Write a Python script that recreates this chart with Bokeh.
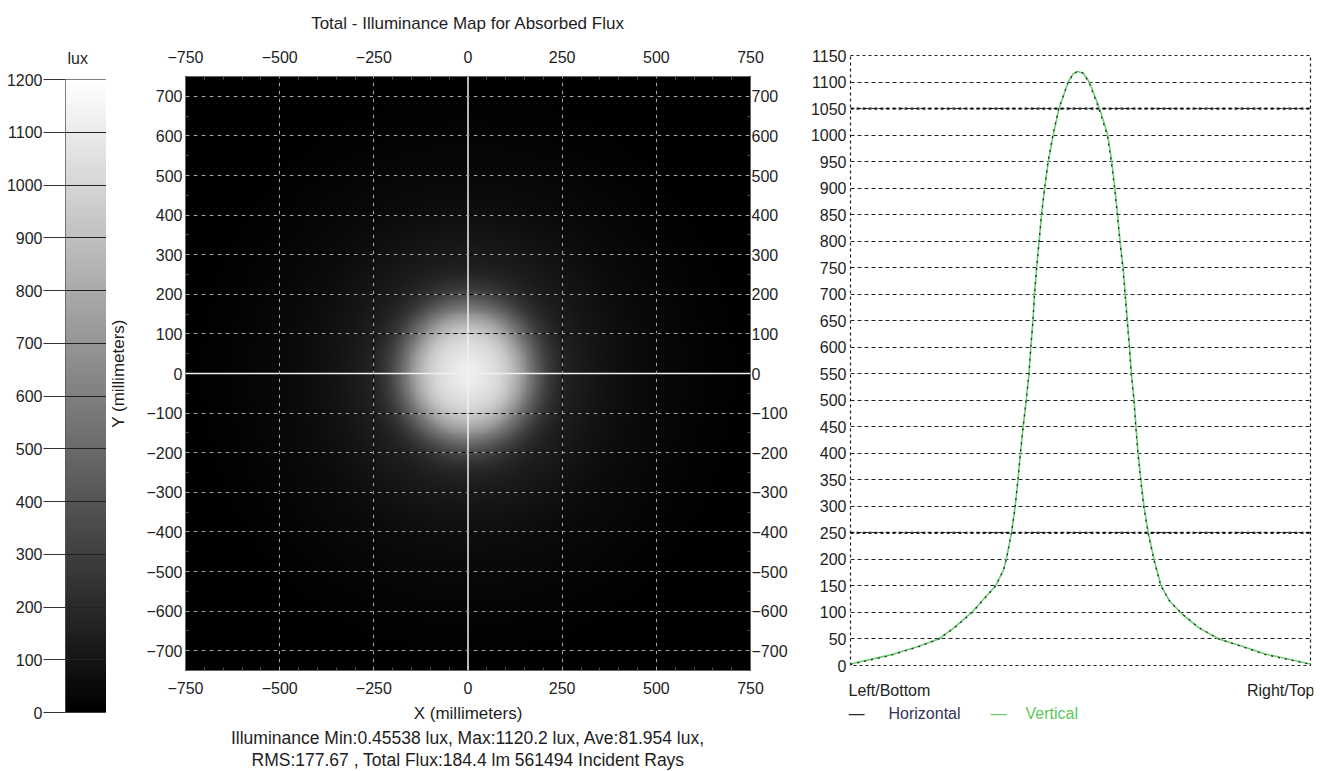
import numpy as np
from bokeh.plotting import figure
from bokeh.layouts import row, column
from bokeh.models import Range1d, FixedTicker, LinearAxis, Grid, Span, Title, LinearColorMapper
from bokeh.core.properties import value
from bokeh.embed import file_html
from bokeh.resources import INLINE

# ---------------- data ----------------
lux_ticks = [0, 100, 200, 300, 400, 500, 600, 700, 800, 900, 1000, 1100, 1200]
map_x_ticks = [-750, -500, -250, 0, 250, 500, 750]
map_y_ticks = [-700, -600, -500, -400, -300, -200, -100, 0, 100, 200, 300, 400, 500, 600, 700]
map_x_grid = [-500, -250, 250, 500]
map_y_grid = [-700, -600, -500, -400, -300, -200, -100, 100, 200, 300, 400, 500, 600, 700]
profile_ticks = [0, 50, 100, 150, 200, 250, 300, 350, 400, 450, 500, 550, 600, 650, 700,
                 750, 800, 850, 900, 950, 1000, 1050, 1100, 1150]
profile_heavy = [250, 1050]

# profile across the map (mm, lux)
horizontal_pos = [-750, -620, -530, -462, -413, -353, -315, -277, -251, -242, -225, -213, -204,
                  -196, -187, -177, -168, -162, -155, -150, -143, -135, -127, -117, -106, -90,
                  -71, -40, -25, -10, 8, 27, 60, 87, 100, 111, 120, 128, 138, 145, 152, 159,
                  165, 174, 180, 187, 196, 206, 220, 239, 262, 290, 330, 385, 451, 530, 600, 750]
horizontal_lux = [2, 19, 35, 50, 70, 100, 125, 150, 180, 200, 250, 300, 350,
                  400, 450, 500, 550, 600, 650, 700, 750, 800, 850, 900, 950, 1000,
                  1050, 1100, 1114, 1120, 1117, 1100, 1050, 1000, 950, 900, 850, 800, 750, 700, 650, 600,
                  550, 500, 450, 400, 350, 300, 250, 200, 150, 122, 98, 72, 50, 35, 21, 2]
vertical_pos = [-750, -620, -530, -462, -413, -353, -315, -277, -251, -242, -225, -213, -204,
                -196, -187, -177, -168, -162, -155, -150, -143, -135, -127, -117, -105, -89,
                -70, -40, -25, -10, 8, 29, 62, 89, 102, 112, 121, 129, 139, 146, 153, 160,
                166, 175, 181, 188, 197, 207, 221, 240, 263, 291, 331, 386, 451, 530, 600, 750]
vertical_lux = [3, 20, 36, 50, 71, 101, 126, 150, 180, 200, 250, 300, 350,
                400, 450, 500, 550, 600, 650, 700, 750, 800, 850, 900, 950, 1000,
                1050, 1100, 1115, 1120, 1117, 1100, 1050, 1000, 950, 900, 850, 800, 750, 700, 650, 600,
                550, 500, 450, 400, 350, 300, 250, 200, 150, 121, 97, 71, 50, 36, 22, 3]

title_text = "Total - Illuminance Map for Absorbed Flux"
stats_line1 = "Illuminance Min:0.45538 lux, Max:1120.2 lux, Ave:81.954 lux,"
stats_line2 = "RMS:177.67 , Total Flux:184.4 lm 561494 Incident Rays"
end_labels = ["Left/Bottom", "Right/Top"]
series_names = ["Horizontal", "Vertical"]

FONT = "Liberation Sans"
TXT = "#1e1e1e"
FS = "16px"
H_COLOR = "#1c2a30"
H_TEXT = "#34345a"
V_COLOR = "#6ccf6c"

gray = ["#%02x%02x%02x" % (v, v, v) for v in range(256)]
mapper = LinearColorMapper(palette=gray, low=0, high=1200)

# ---------------- colour bar ----------------
cb = figure(width=106, height=771, x_range=Range1d(0, 1), y_range=Range1d(0, 1200),
            output_backend="svg", toolbar_location=None, x_axis_location=None, frame_align=False,
            min_border_left=65, min_border_right=0, min_border_top=79, min_border_bottom=59,
            title="lux")
levels = np.linspace(0, 1200, 241).reshape(-1, 1)
cb.image(image=[levels], x=0, y=0, dw=1, dh=1200, color_mapper=mapper)
cb.yaxis.ticker = FixedTicker(ticks=lux_ticks)
cb.yaxis.major_tick_out = 22
cb.yaxis.major_tick_in = 0
cb.yaxis.minor_tick_line_color = None
cb.yaxis.major_tick_line_color = "#333333"
cb.yaxis.axis_line_color = None
cb.yaxis.major_label_standoff = 1
cb.yaxis.major_label_text_font = FONT
cb.yaxis.major_label_text_font_size = FS
cb.yaxis.major_label_text_color = TXT
cb.ygrid.ticker = FixedTicker(ticks=lux_ticks)
cb.ygrid.grid_line_color = "#222222"
cb.ygrid.level = "overlay"
cb.xgrid.grid_line_color = None
cb.outline_line_color = "#555555"
cb.title.align = "left"
cb.title.offset = 2
cb.title.standoff = 25
cb.title.text_font = FONT
cb.title.text_font_size = FS
cb.title.text_font_style = "normal"
cb.title.text_color = TXT

# ---------------- illuminance map ----------------
hm = figure(width=684, height=771, x_range=Range1d(-750, 750), y_range=Range1d(-750, 750),
            output_backend="svg", toolbar_location=None, frame_align=False,
            min_border_left=78, min_border_right=34, min_border_top=76, min_border_bottom=101,
            title=title_text)
grid_mm = np.linspace(-750, 750, 401)
GX, GY = np.meshgrid(grid_mm, grid_mm)
R = np.hypot(GX, GY)
hp, hv = np.array(horizontal_pos), np.array(horizontal_lux)
vp, vv = np.array(vertical_pos), np.array(vertical_lux)
img = 0.25 * (np.interp(R, hp, hv) + np.interp(-R, hp, hv) + np.interp(R, vp, vv) + np.interp(-R, vp, vv))
hm.image(image=[img], x=-750, y=-750, dw=1500, dh=1500, color_mapper=mapper)

hm.add_layout(LinearAxis(), "above")
hm.add_layout(LinearAxis(), "right")
for ax in hm.xaxis:
    ax.ticker = FixedTicker(ticks=map_x_ticks, minor_ticks=list(range(-750, 751, 50)))
for ax in hm.yaxis:
    ax.ticker = FixedTicker(ticks=map_y_ticks, minor_ticks=list(range(-750, 751, 50)))
for ax in hm.xaxis + hm.yaxis:
    ax.major_tick_in = 5
    ax.major_tick_out = 0
    ax.minor_tick_in = 3
    ax.minor_tick_out = 0
    ax.major_tick_line_color = "#777777"
    ax.minor_tick_line_color = "#555555"
    ax.axis_line_color = "#666666"
    ax.major_label_text_font = FONT
    ax.major_label_text_font_size = FS
    ax.major_label_text_color = TXT
    ax.major_label_standoff = 3
hm.below[0].axis_label = "X (millimeters)"
hm.left[0].axis_label = "Y (millimeters)"
for ax in (hm.below[0], hm.left[0]):
    ax.axis_label_text_font = FONT
    ax.axis_label_text_font_size = "17px"
    ax.axis_label_text_font_style = "normal"
    ax.axis_label_text_color = TXT
hm.below[0].major_label_standoff = 11
hm.above[0].major_label_standoff = 14
hm.below[0].axis_label_standoff = 7
hm.left[0].axis_label_standoff = 15
hm.right[0].major_label_standoff = 1

hm.xgrid.ticker = FixedTicker(ticks=map_x_grid)
hm.ygrid.ticker = FixedTicker(ticks=map_y_grid)
for g in (hm.xgrid[0], hm.ygrid[0]):
    g.grid_line_color = "#a8a8a8"
    g.grid_line_dash = "4 4"
    g.level = "overlay"
hm.add_layout(Grid(dimension=0, ticker=FixedTicker(ticks=map_x_grid), grid_line_color="black",
                   grid_line_dash="4 4", grid_line_dash_offset=4, level="overlay"))
hm.add_layout(Grid(dimension=1, ticker=FixedTicker(ticks=map_y_grid), grid_line_color="black",
                   grid_line_dash="4 4", grid_line_dash_offset=4, level="overlay"))
hm.add_layout(Span(location=0, dimension="height", line_color="#f0f0f0", line_width=1.5))
hm.add_layout(Span(location=0, dimension="width", line_color="#f0f0f0", line_width=1.5))
hm.outline_line_color = "#666666"

hm.title.align = "center"
hm.title.text_font = FONT
hm.title.text_font_size = "17px"
hm.title.text_font_style = "normal"
hm.title.text_color = TXT
hm.title.standoff = 26
hm.title.vertical_align = "top"
for line in (stats_line1, stats_line2):
    hm.add_layout(Title(text=line, align="center", text_font=FONT, text_font_size="17.5px",
                        text_font_style="normal", text_color=TXT, standoff=0,
                        text_line_height=0.85), "below")

# ---------------- profile ----------------
pf = figure(width=533, height=673, x_range=Range1d(-750, 750), y_range=Range1d(0, 1150),
            output_backend="svg", toolbar_location=None, x_axis_location=None, frame_align=False,
            min_border_left=60, min_border_right=13, min_border_top=55, min_border_bottom=8)
pf.yaxis.ticker = FixedTicker(ticks=profile_ticks)
pf.yaxis.major_tick_out = 0
pf.yaxis.major_tick_in = 0
pf.yaxis.minor_tick_line_color = None
pf.yaxis.axis_line_color = None
pf.yaxis.major_label_standoff = 4
pf.yaxis.major_label_text_font = FONT
pf.yaxis.major_label_text_font_size = FS
pf.yaxis.major_label_text_color = TXT
pf.ygrid.ticker = FixedTicker(ticks=profile_ticks)
pf.ygrid.grid_line_color = "#222222"
pf.ygrid.grid_line_dash = "4 3"
pf.ygrid.grid_line_width = 1.2
pf.xgrid.grid_line_color = None
for h in profile_heavy:
    pf.add_layout(Span(location=h, dimension="width", line_color="#000000", line_width=2.2,
                       line_alpha=0.85, line_dash="3 3", level="underlay"))
pf.outline_line_color = "#222222"
pf.outline_line_dash = "3 3"
pf.outline_line_width = 1.2

pf.line(vertical_pos, vertical_lux, line_color=V_COLOR, line_width=1.6)
pf.line(horizontal_pos, horizontal_lux, line_color=H_COLOR, line_width=1.3, line_dash="2 5")

# area under the profile: end labels and legend
pb = figure(width=533, height=98, x_range=pf.x_range, y_range=Range1d(0, 98),
            output_backend="svg", toolbar_location=None, x_axis_location=None, y_axis_location=None,
            frame_align=False, min_border_left=58, min_border_right=10, min_border_top=0,
            min_border_bottom=0)
pb.outline_line_color = None
pb.xgrid.grid_line_color = None
pb.ygrid.grid_line_color = None
common = dict(text_font=value(FONT), text_font_size=value(FS), text_baseline="middle")
pb.text(x=[-750], y=[81], text=[end_labels[0]], text_align="left", text_color=TXT, x_offset=0, **common)
pb.text(x=[750], y=[81], text=[end_labels[1]], text_align="right", text_color=TXT, x_offset=1, **common)
pb.text(x=[-750], y=[58], text=["—"], text_align="left", text_color=H_COLOR, x_offset=0, **common)
pb.text(x=[-750], y=[58], text=[series_names[0]], text_align="left", text_color=H_TEXT, x_offset=40, **common)
pb.text(x=[-750], y=[58], text=["—"], text_align="left", text_color=V_COLOR, x_offset=142, **common)
pb.text(x=[-750], y=[58], text=[series_names[1]], text_align="left", text_color="#5cc85c", x_offset=177, **common)

layout = row(cb, hm, column(pf, pb, spacing=0), spacing=0)
open("out.html", "w").write(file_html(layout, INLINE))
